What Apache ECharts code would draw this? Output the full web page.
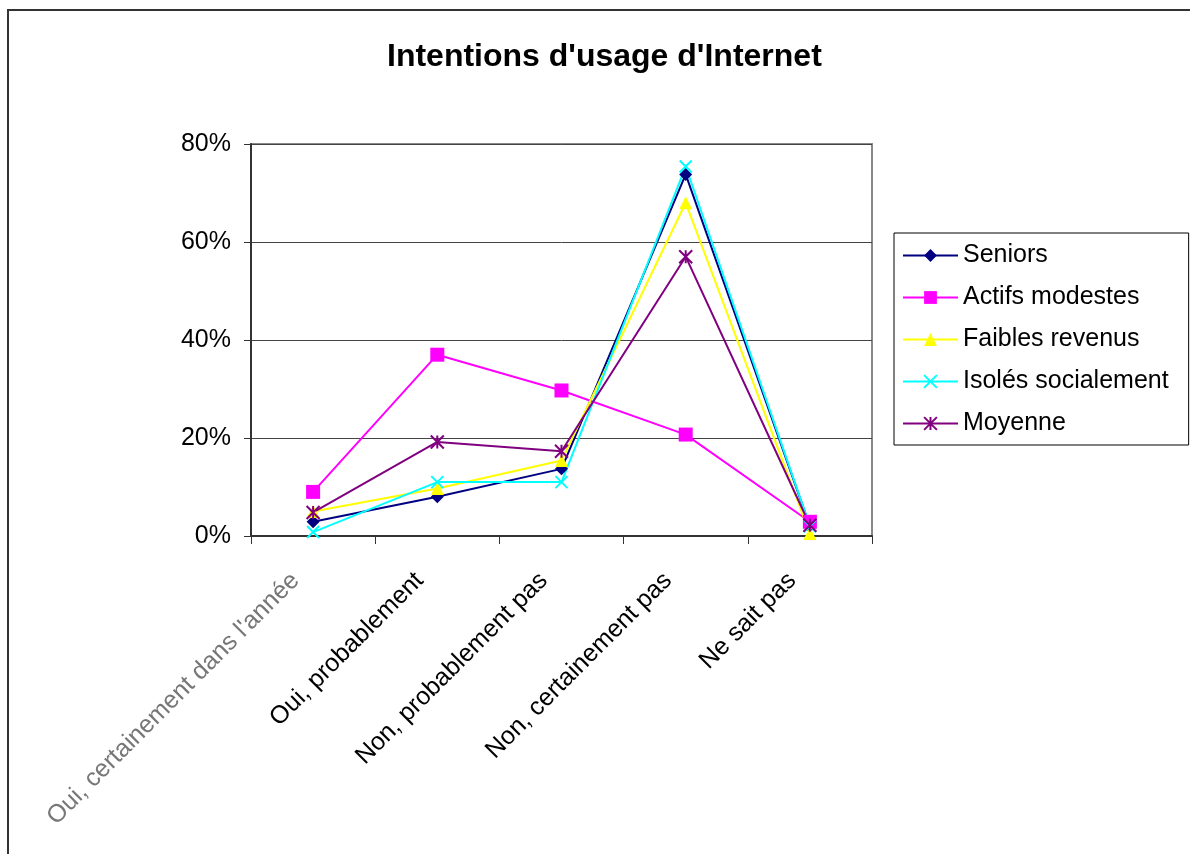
<!DOCTYPE html>
<html>
<head>
<meta charset="utf-8">
<title>Intentions d'usage d'Internet</title>
<script src="https://cdn.jsdelivr.net/npm/echarts@6/dist/echarts.min.js"></script>
<style>
  html, body { margin: 0; padding: 0; background: #fff; }
  #chart { width: 1190px; height: 854px; }
</style>
</head>
<body>
<div id="chart"></div>
<script>
  // categories (axe X)
  var categories = ['Oui, certainement dans l\'année', 'Oui, probablement', 'Non, probablement pas', 'Non, certainement pas', 'Ne sait pas']
  // valeurs en %
  var seniors = [2.9, 8.0, 13.7, 73.8, 2.0]
  var actifsModestes = [9.0, 37.0, 29.7, 20.7, 2.9]
  var faiblesRevenus = [5.0, 9.7, 15.4, 68.0, 0.5]
  var isolesSocialement = [0.8, 11.0, 11.0, 75.4, 2.0]
  var moyenne = [4.8, 19.2, 17.3, 57.0, 2.2]
  var yTicks = [0, 20, 40, 60, 80]

  var font = 'Arial, "Liberation Sans", sans-serif'

  function makeSeries (name, data, color, symbol, size, stroke) {
    return {
      name: name,
      type: 'line',
      data: data,
      symbol: symbol,
      symbolSize: size,
      showAllSymbol: true,
      animation: false,
      lineStyle: { color: color, width: 2 },
      itemStyle: { color: color, borderColor: color, borderWidth: stroke ? 2 : 0 },
      emphasis: { disabled: true }
    }
  }

  var chart = echarts.init(document.getElementById('chart'))
  var option = {
    animation: false,
    backgroundColor: '#fff',
    graphic: [{
      type: 'rect',
      shape: { x: 8, y: 10, width: 1200, height: 900 },
      style: { fill: 'none', stroke: '#333', lineWidth: 2 },
      silent: true,
      z: -1
    }],
    title: {
      text: 'Intentions d\'usage d\'Internet',
      left: 382,
      top: 36,
      textStyle: { fontFamily: font, fontSize: 32, fontWeight: 'bold', color: '#000' }
    },
    legend: {
      orient: 'vertical',
      left: 894,
      top: 233,
      padding: [10, 20, 9, 8],
      itemGap: 17,
      itemWidth: 55,
      itemHeight: 16,
      borderColor: '#000',
      borderWidth: 1,
      textStyle: { fontFamily: font, fontSize: 25, color: '#000', lineHeight: 24 },
      data: ['Seniors', 'Actifs modestes', 'Faibles revenus', 'Isolés socialement', 'Moyenne']
    },
    grid: {
      left: 251,
      right: 318,
      top: 144,
      bottom: 318,
      show: true,
      borderColor: '#888',
      borderWidth: 2,
      containLabel: false
    },
    xAxis: {
      type: 'category',
      data: categories.map(function (c, i) {
        return i === 0 ? { value: c, textStyle: { color: '#777' } } : c
      }),
      boundaryGap: true,
      axisLine: { lineStyle: { color: '#333', width: 2 } },
      axisTick: { show: true, length: 8, lineStyle: { color: '#333', width: 1 } },
      axisLabel: {
        rotate: 45,
        margin: 23,
        padding: [0, 25, 0, 0],
        interval: 0,
        fontFamily: font,
        fontSize: 25,
        color: '#000'
      },
      splitLine: { show: false }
    },
    yAxis: {
      type: 'value',
      min: yTicks[0],
      max: yTicks[yTicks.length - 1],
      interval: 20,
      axisLine: { show: true, lineStyle: { color: '#333', width: 2 } },
      axisTick: { show: true, length: 7, lineStyle: { color: '#333', width: 1 } },
      axisLabel: {
        formatter: '{value}%',
        margin: 20,
        fontFamily: font,
        fontSize: 25,
        color: '#000'
      },
      splitLine: { show: true, lineStyle: { color: '#444', width: 1 } }
    },
    series: [
      makeSeries('Seniors', seniors, '#000080', 'diamond', 13, false),
      makeSeries('Actifs modestes', actifsModestes, '#FF00FF', 'rect', 14, false),
      makeSeries('Faibles revenus', faiblesRevenus, '#FFFF00', 'triangle', 13, false),
      makeSeries('Isolés socialement', isolesSocialement, '#00FFFF', 'path://M0,0L10,10M10,0L0,10', 12, true),
      makeSeries('Moyenne', moyenne, '#800080', 'path://M0,0L10,10M10,0L0,10M5,0L5,10', 13, true)
    ]
  }
  chart.setOption(option)
</script>
</body>
</html>
